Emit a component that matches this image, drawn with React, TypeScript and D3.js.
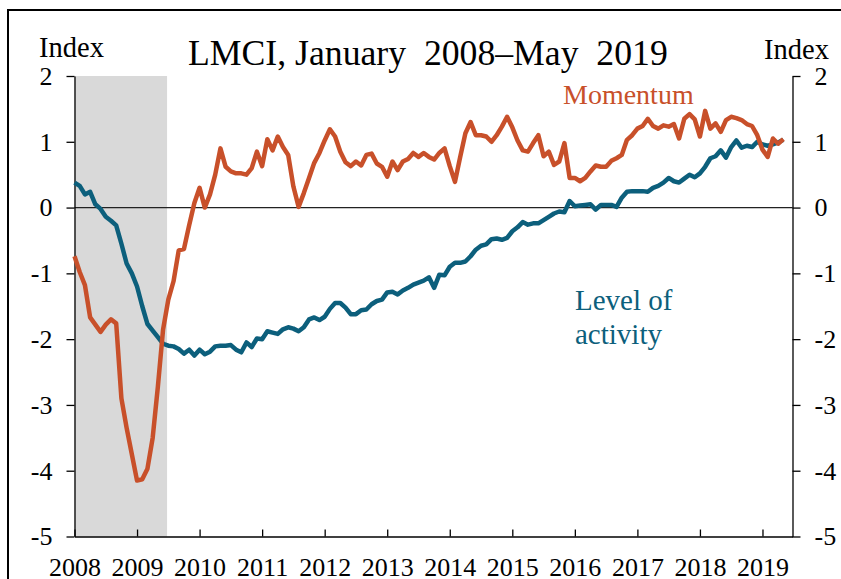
import React, { useEffect, useRef } from 'react';
import * as d3 from 'd3';

// monthly, January 2008 through May 2019
const startYear = 2008;
const yearTicks = [2008, 2009, 2010, 2011, 2012, 2013, 2014, 2015, 2016, 2017, 2018, 2019];
const yTicks = [-5, -4, -3, -2, -1, 0, 1, 2];
const recession = [2008, 2009.48];

const momentum = [
  -0.74, -0.98, -1.18, -1.67, -1.78, -1.89, -1.78, -1.7, -1.76, -2.9, -3.35, -3.75,
  -4.15, -4.13, -3.97, -3.5, -2.72, -1.85, -1.4, -1.12, -0.65, -0.63, -0.27, 0.07,
  0.3, 0.0, 0.2, 0.5, 0.9, 0.62, 0.55, 0.52, 0.52, 0.5, 0.6, 0.85,
  0.63, 1.04, 0.87, 1.08, 0.92, 0.8, 0.32, 0.01, 0.22, 0.45, 0.68, 0.83,
  1.02, 1.19, 1.08, 0.85, 0.69, 0.63, 0.7, 0.64, 0.8, 0.82, 0.67, 0.62,
  0.47, 0.7, 0.57, 0.7, 0.74, 0.83, 0.77, 0.83, 0.77, 0.73, 0.83, 0.9,
  0.63, 0.39, 0.77, 1.13, 1.3, 1.1, 1.1, 1.08, 1.0, 1.1, 1.23, 1.38,
  1.22, 1.02, 0.87, 0.85, 0.98, 1.1, 0.78, 0.85, 0.65, 0.7, 0.98, 0.45,
  0.45, 0.4, 0.45, 0.55, 0.64, 0.62, 0.62, 0.71, 0.75, 0.8, 1.03, 1.1,
  1.2, 1.24, 1.35, 1.24, 1.2, 1.25, 1.23, 1.27, 1.05, 1.35, 1.42, 1.34,
  1.08, 1.47, 1.2, 1.28, 1.15, 1.33, 1.38, 1.36, 1.33, 1.27, 1.24, 1.1,
  0.88, 0.77, 1.05, 0.97, 1.04
];

const level = [
  0.38, 0.33, 0.2, 0.24, 0.05, -0.02, -0.14, -0.2, -0.27, -0.55, -0.85, -1.0,
  -1.2, -1.5, -1.77, -1.87, -1.97, -2.07, -2.1, -2.11, -2.15, -2.22, -2.16, -2.25,
  -2.16, -2.23, -2.19, -2.11, -2.1, -2.1, -2.09, -2.16, -2.2, -2.05, -2.12, -1.99,
  -2.0, -1.88, -1.9, -1.92, -1.85, -1.82, -1.84, -1.88, -1.82, -1.7, -1.67, -1.71,
  -1.66, -1.54, -1.45, -1.45, -1.52, -1.62, -1.62, -1.56, -1.55, -1.47, -1.42, -1.4,
  -1.29, -1.28, -1.32, -1.26, -1.22, -1.17, -1.14, -1.11, -1.06, -1.22, -1.02, -1.03,
  -0.9, -0.84, -0.84, -0.82, -0.74, -0.64, -0.58, -0.56, -0.48, -0.47, -0.49, -0.46,
  -0.36, -0.3, -0.22, -0.26, -0.24, -0.24, -0.19, -0.14, -0.09, -0.06, -0.07, 0.1,
  0.02, 0.03, 0.04, 0.05, -0.03, 0.04, 0.04, 0.04, 0.01, 0.15, 0.24, 0.25,
  0.25, 0.25, 0.24, 0.3, 0.33, 0.38, 0.45, 0.4, 0.38, 0.44, 0.5, 0.46,
  0.52, 0.62, 0.75, 0.78, 0.87, 0.76, 0.92, 1.02, 0.91, 0.94, 0.92, 1.0,
  0.96, 0.94, 0.96, 0.99, 1.03
];

const orange = "#c8502a";
const teal = "#0c5f7c";
const font = "'Liberation Serif', 'Times New Roman', serif";

export default function App() {
  const ref = useRef(null);

  useEffect(() => {
    const svg = d3.select(ref.current);
    svg.selectAll("*").remove();

    // scales
    const x = d3.scaleLinear().domain([2008, 2019.48]).range([74.5, 792.5]);
    const y = d3.scaleLinear().domain([-5, 2]).range([536.5, 76]);

    // outer frame
    svg.append("rect")
      .attr("x", 8).attr("y", 10)
      .attr("width", 900).attr("height", 900)
      .attr("fill", "none").attr("stroke", "#000").attr("stroke-width", 2);

    // recession shading
    svg.append("rect")
      .attr("x", x(recession[0]))
      .attr("y", y(2))
      .attr("width", x(recession[1]) - x(recession[0]))
      .attr("height", y(-5) - y(2))
      .attr("fill", "#d9d9d9");

    // zero line
    svg.append("line")
      .attr("x1", x.range()[0]).attr("x2", x.range()[1])
      .attr("y1", y(0)).attr("y2", y(0))
      .attr("stroke", "#222").attr("stroke-width", 1.2);

    // axes
    const styleAxis = (g) => {
      g.attr("font-family", font).attr("font-size", 26);
      g.selectAll("path, line").attr("stroke", "#000").attr("stroke-width", 1.3);
      g.selectAll("text")
        .attr("fill", "#000")
        .attr("font-family", font)
        .attr("font-size", 26);
    };
    const plain = (d) => String(d);

    svg.append("g")
      .attr("transform", "translate(" + x.range()[0] + ",0)")
      .call(d3.axisLeft(y).tickValues(yTicks).tickFormat(plain).tickSize(8).tickSizeOuter(0).tickPadding(14))
      .call(styleAxis);

    svg.append("g")
      .attr("transform", "translate(" + x.range()[1] + ",0)")
      .call(d3.axisRight(y).tickValues(yTicks).tickFormat(plain).tickSize(8).tickSizeOuter(0).tickPadding(14))
      .call(styleAxis);

    const xAxis = svg.append("g")
      .attr("transform", "translate(0," + y(-5) + ")")
      .call(d3.axisBottom(x).tickValues(yearTicks).tickFormat(plain).tickSize(-7).tickSizeOuter(0))
      .call(styleAxis);
    xAxis.selectAll("text").attr("y", 39.5).attr("dy", "0");

    // lines
    const line = d3.line()
      .x((d, i) => x(startYear + i / 12))
      .y((d) => y(d));

    svg.append("path")
      .datum(level)
      .attr("d", line)
      .attr("fill", "none")
      .attr("stroke", teal)
      .attr("stroke-width", 4.5)
      .attr("stroke-linejoin", "round");

    svg.append("path")
      .datum(momentum)
      .attr("d", line)
      .attr("fill", "none")
      .attr("stroke", orange)
      .attr("stroke-width", 4.5)
      .attr("stroke-linejoin", "round");

    // texts
    const addText = (txt, tx, ty, size, color, anchor) => svg.append("text")
      .attr("x", tx).attr("y", ty)
      .attr("text-anchor", anchor || "start")
      .attr("fill", color)
      .attr("font-family", font)
      .attr("font-size", size)
      .style("white-space", "pre")
      .text(txt);

    addText("LMCI, January  2008\u2013May  2019", 188, 65, 35.7, "#000");
    addText("Index", 39, 57, 28.5, "#000");
    addText("Index", 764, 59, 28.5, "#000");
    addText("Momentum", 563, 104, 28, orange);
    addText("Level of", 575, 310, 29, teal);
    addText("activity", 575, 344, 29, teal);
  }, []);

  return (
    <svg
      ref={ref}
      width={841}
      height={579}
      style={{ position: "absolute", left: 0, top: 0, background: "#fff" }}
    />
  );
}
